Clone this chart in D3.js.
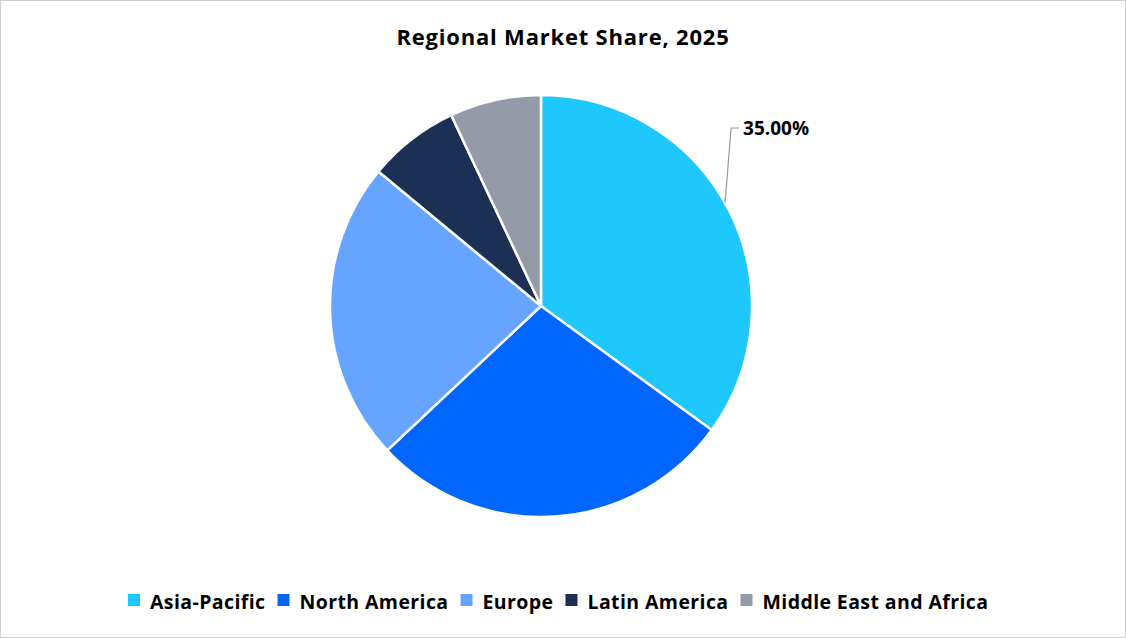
<!DOCTYPE html><html><head><meta charset="utf-8"><script src="https://cdn.jsdelivr.net/npm/d3@7"></script>
<style>body{margin:0;background:#fff;font-family:"Open Sans",Lato,sans-serif}</style></head><body><svg id="c" width="1126" height="638"></svg><script>
const categories=["Asia-Pacific","North America","Europe","Latin America","Middle East and Africa"];
const values=[35,28,23,7,7];
const colors=["#1ec8fc","#0066ff","#66a5ff","#1c3056","#959aa8"];
const svg=d3.select("#c");
svg.append("rect").attr("x",0.5).attr("y",0.5).attr("width",1125).attr("height",637).attr("fill","#fff").attr("stroke","#d0d0d0");
svg.append("text").attr("x",563).attr("y",45).attr("text-anchor","middle").attr("font-size",22).attr("letter-spacing",0.8).attr("font-weight","bold").text("Regional Market Share, 2025");
const cx=541,cy=306,r=211;
const pie=d3.pie().sort(null)(values);
const arc=d3.arc().innerRadius(0).outerRadius(r);
const g=svg.append("g").attr("transform",`translate(${cx},${cy})`);
g.selectAll("path").data(pie).join("path").attr("d",arc).attr("fill",(d,i)=>colors[i]).attr("stroke","#fff").attr("stroke-width",2.5);
const ma=1.06;
const p1=[Math.sin(ma)*r,-Math.cos(ma)*r];
g.append("polyline").attr("points",`${p1[0]},${p1[1]} ${p1[0]+6},-178 ${p1[0]+14},-178`).attr("fill","none").attr("stroke","#999").attr("stroke-width",1.2);
g.append("text").attr("x",p1[0]+18).attr("y",-171).attr("font-size",19).attr("font-weight","bold").text(d3.format(".2f")(values[0])+"%");
const lg=svg.append("g");
let x=128;
categories.forEach((c,i)=>{
 lg.append("rect").attr("x",x).attr("y",594).attr("width",12).attr("height",12).attr("fill",colors[i]);
 const t=lg.append("text").attr("x",x+22).attr("y",609).attr("font-size",19.5).attr("letter-spacing",0.4).attr("font-weight","bold").text(c);
 x+=22+t.node().getComputedTextLength()+12;
});
</script></body></html>
